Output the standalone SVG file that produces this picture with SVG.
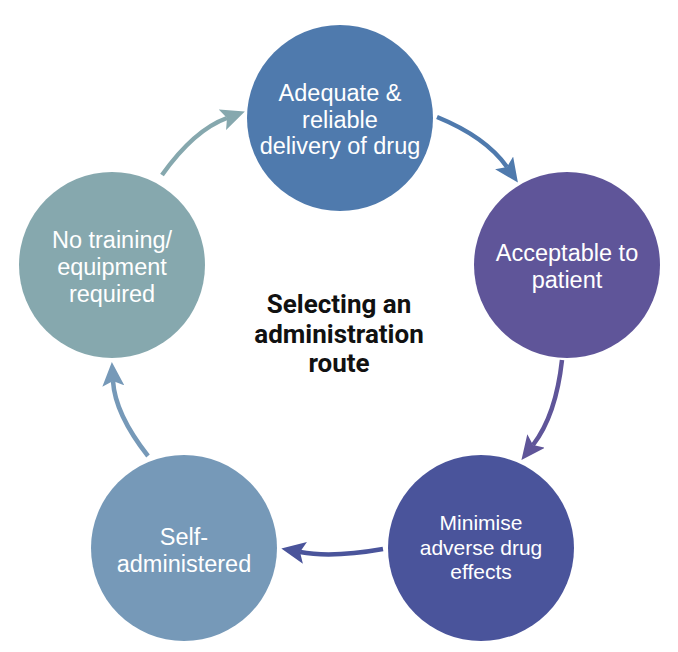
<svg xmlns="http://www.w3.org/2000/svg" width="678" height="652" viewBox="0 0 678 652">
<style>
.lbl{font-family:"Liberation Sans",Arial,sans-serif;font-size:23.5px;fill:#ffffff;text-anchor:middle}
.sm{font-size:21px}
.title{font-family:Roboto,"Liberation Sans",sans-serif;font-weight:bold;font-size:26px;fill:#111111;text-anchor:middle}
.conn{fill:none;stroke-width:4.5}
</style>
<defs>
<marker id="a1" viewBox="0 0 24 22" refX="5" refY="11" markerWidth="24" markerHeight="22" markerUnits="userSpaceOnUse" orient="auto"><path d="M0,0 L24,11 L0,22 L5,11 z" fill="#4f7aad"/></marker>
<marker id="a2" viewBox="0 0 24 22" refX="5" refY="11" markerWidth="24" markerHeight="22" markerUnits="userSpaceOnUse" orient="auto"><path d="M0,0 L24,11 L0,22 L5,11 z" fill="#5f5599"/></marker>
<marker id="a3" viewBox="0 0 24 22" refX="5" refY="11" markerWidth="24" markerHeight="22" markerUnits="userSpaceOnUse" orient="auto"><path d="M0,0 L24,11 L0,22 L5,11 z" fill="#4a549b"/></marker>
<marker id="a4" viewBox="0 0 24 22" refX="5" refY="11" markerWidth="24" markerHeight="22" markerUnits="userSpaceOnUse" orient="auto"><path d="M0,0 L24,11 L0,22 L5,11 z" fill="#7699b8"/></marker>
<marker id="a5" viewBox="0 0 24 22" refX="5" refY="11" markerWidth="24" markerHeight="22" markerUnits="userSpaceOnUse" orient="auto"><path d="M0,0 L24,11 L0,22 L5,11 z" fill="#86a8ae"/></marker>
</defs>
<rect width="678" height="652" fill="#ffffff"/>
<g id="connectors">
<path class="conn" stroke="#4f7aad" d="M437,117 Q486,137 507,167" marker-end="url(#a1)"/>
<path class="conn" stroke="#5f5599" d="M562,360 Q556,415 533,445" marker-end="url(#a2)"/>
<path class="conn" stroke="#4a549b" d="M383,549 Q332,558 300,552" marker-end="url(#a3)"/>
<path class="conn" stroke="#7699b8" d="M148,456 Q115,414 113,381" marker-end="url(#a4)"/>
<path class="conn" stroke="#86a8ae" d="M162,175 Q194,130 227,118" marker-end="url(#a5)"/>
</g>
<g id="node-delivery">
<circle cx="340" cy="118" r="93" fill="#4f7aad"/>
<text class="lbl" x="340" y="101">Adequate &amp;</text>
<text class="lbl" x="340" y="128">reliable</text>
<text class="lbl" x="340" y="154">delivery of drug</text>
</g>
<g id="node-acceptable">
<circle cx="567" cy="265" r="93" fill="#5f5599"/>
<text class="lbl" x="567" y="261">Acceptable to</text>
<text class="lbl" x="567" y="288">patient</text>
</g>
<g id="node-minimise">
<circle cx="481" cy="548" r="93" fill="#4a549b"/>
<text class="lbl sm" x="481" y="530">Minimise</text>
<text class="lbl sm" x="481" y="555">adverse drug</text>
<text class="lbl sm" x="481" y="579">effects</text>
</g>
<g id="node-self">
<circle cx="184" cy="548" r="93" fill="#7699b8"/>
<text class="lbl" x="184" y="545">Self-</text>
<text class="lbl" x="184" y="572">administered</text>
</g>
<g id="node-training">
<circle cx="112" cy="265" r="93" fill="#86a8ae"/>
<text class="lbl" x="112" y="248">No training/</text>
<text class="lbl" x="112" y="275">equipment</text>
<text class="lbl" x="112" y="302">required</text>
</g>
<g id="center">
<text class="title" x="339" y="313">Selecting an</text>
<text class="title" x="339" y="343">administration</text>
<text class="title" x="339" y="372">route</text>
</g>
</svg>
